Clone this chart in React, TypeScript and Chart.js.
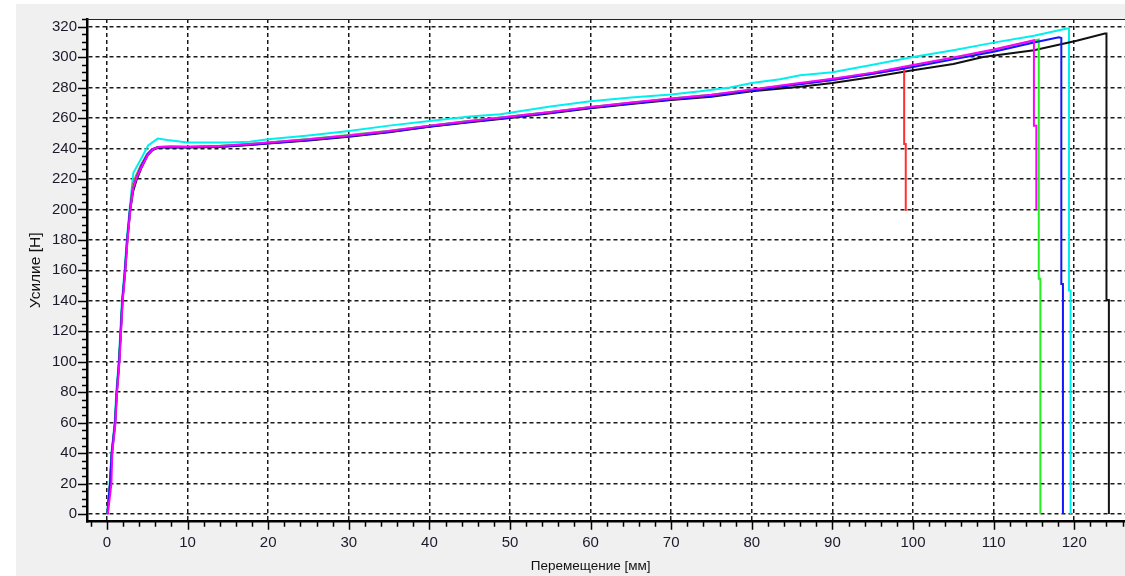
import React, { useEffect, useRef } from "react";
import { Chart, registerables } from "chart.js";

Chart.register(...registerables);

// ---- tick labels ----
const xTickLabels = [0, 10, 20, 30, 40, 50, 60, 70, 80, 90, 100, 110, 120];
const yTickLabels = [0, 20, 40, 60, 80, 100, 120, 140, 160, 180, 200, 220, 240, 260, 280, 300, 320];

const xTitle = "Перемещение [мм]";
const yTitle = "Усилие [Н]";

// ---- series (displacement mm, force N) ----
const redX = [0.05, 0.38, 0.6, 1.0, 1.22, 1.5, 1.72, 1.92, 2.25, 2.52, 2.87, 3.2, 3.6, 4.2, 5.0, 5.6, 6.3, 8, 10, 14, 17.7, 20, 25, 30, 35, 40, 45, 50, 55, 60, 65, 70, 75, 80, 85, 90, 95, 98.9, 98.9, 99.1, 99.1];
const redY = [0, 20, 40, 60, 80, 100, 120, 140, 160, 180, 200, 216, 222, 229, 236.5, 239.5, 241, 241.2, 241, 241.5, 242.8, 243.8, 245.8, 248.3, 251.2, 254.8, 257.8, 260.6, 263.8, 267, 269.8, 272.5, 274.8, 278.3, 281.8, 285, 289, 292.5, 243, 243, 199];

const magentaX = [0.1, 0.55, 0.65, 1.05, 1.25, 1.55, 1.75, 1.95, 2.28, 2.55, 2.9, 3.25, 3.7, 4.3, 5.1, 5.7, 6.4, 8, 10, 14, 17.7, 20, 25, 30, 35, 40, 45, 50, 55, 60, 65, 70, 75, 80, 85, 90, 95, 100, 105, 110, 115.0, 115.0, 115.3, 115.3];
const magentaY = [0, 20, 40, 60, 80, 100, 120, 140, 160, 180, 200, 214, 221, 228, 236, 239.5, 241, 241.3, 241.2, 241.6, 243, 244, 246, 248.6, 251.5, 255, 258, 261, 264, 267.3, 270.2, 272.8, 275.3, 278.8, 282.3, 285.8, 289.8, 294.8, 299.8, 305, 311, 255, 255, 200];

const greenX = [0.05, 0.4, 0.6, 1.0, 1.2, 1.5, 1.7, 1.9, 2.24, 2.5, 2.86, 3.2, 3.6, 4.2, 5.0, 5.6, 6.3, 8, 10, 14, 17.7, 20, 25, 30, 35, 40, 45, 50, 55, 60, 65, 70, 75, 80, 85, 90, 95, 100, 105, 110, 115.6, 115.6, 115.8, 115.8];
const greenY = [0, 20, 40, 60, 80, 100, 120, 140, 160, 180, 200, 215, 221, 228.5, 236.2, 239.6, 241, 241.3, 241.2, 241.8, 243, 244, 246.2, 248.8, 251.6, 255, 258.2, 261, 264, 267.2, 270, 272.8, 275.2, 278.6, 282, 285.5, 289.5, 294.3, 299.3, 304.6, 311.5, 154.5, 154.5, 0];

const blueX = [0.05, 0.37, 0.58, 1.0, 1.2, 1.5, 1.7, 1.9, 2.23, 2.5, 2.85, 3.2, 3.6, 4.2, 5.0, 5.6, 6.3, 8, 10, 14, 17.7, 20, 25, 30, 35, 40, 45, 50, 55, 60, 65, 70, 75, 80, 85, 90, 95, 100, 105, 110, 115, 118.1, 118.4, 118.4, 118.6, 118.6];
const blueY = [0, 20, 40, 60, 80, 100, 120, 140, 160, 180, 200, 213, 220, 228, 236, 239.4, 240.8, 241, 240.8, 241.3, 242.5, 243.5, 245.5, 248, 251, 254.5, 257.5, 260.3, 263.5, 266.8, 269.5, 272.3, 274.5, 278, 281.5, 285, 289, 293.5, 298.5, 303.5, 309.6, 313, 312.5, 151, 151, 0];

const cyanX = [0, 0.33, 0.55, 0.95, 1.15, 1.45, 1.65, 1.85, 2.18, 2.45, 2.8, 3.27, 4.2, 5.1, 6.3, 7.5, 10, 15, 17.7, 20, 25, 30, 35, 40, 45, 48.8, 50, 55, 60, 65, 70, 73.6, 77.3, 80, 83.5, 86, 90, 95, 100, 105, 110, 115, 119.1, 119.35, 119.35, 119.55, 119.55];
const cyanY = [0, 20, 40, 60, 80, 100, 120, 140, 160, 180, 200, 224, 233, 242, 246.5, 245.5, 244, 244, 244.5, 246, 248.5, 251.5, 255, 258, 261, 262.5, 263.5, 267.5, 271, 273.5, 275.5, 277.5, 280, 283, 285.5, 288, 290, 295, 300, 304.5, 309.5, 314, 318.7, 318.7, 146.7, 146.7, 0];

const blackX = [0.05, 0.4, 0.62, 1.02, 1.22, 1.52, 1.72, 1.92, 2.26, 2.53, 2.9, 3.25, 3.65, 4.25, 5.05, 5.65, 6.35, 8, 10, 14, 17.7, 20, 25, 30, 35, 40, 45, 50, 55, 60, 65, 70, 75, 80, 86, 90, 95, 99.6, 105, 108.7, 115, 120.3, 123.8, 124.0, 124.0, 124.3, 124.3];
const blackY = [0, 20, 40, 60, 80, 100, 120, 140, 160, 180, 200, 212, 219, 227, 235.5, 239, 240.5, 240.8, 240.6, 241, 242.3, 243.2, 245.2, 247.7, 250.7, 254.2, 257.2, 260, 263.2, 266.4, 269.2, 271.8, 274, 277.5, 280.6, 283, 287, 291, 295.5, 300, 304.5, 310.7, 315.5, 315.5, 140.5, 140.5, 0];

const seriesList = [
  { name: "magenta", color: "#ff00ff", xs: magentaX, ys: magentaY },
  { name: "blue", color: "#1414ff", xs: blueX, ys: blueY },
  { name: "green", color: "#22ee22", xs: greenX, ys: greenY },
  { name: "red", color: "#ff3030", xs: redX, ys: redY },
  { name: "black", color: "#111111", xs: blackX, ys: blackY },
  { name: "cyan", color: "#00f0f0", xs: cyanX, ys: cyanY },
];

const FONT = "'Liberation Sans', Arial, sans-serif";

const framePlugin = {
  id: "frame",
  beforeDraw(chart: any) {
    const { ctx, chartArea: a } = chart;
    ctx.save();
    ctx.fillStyle = "#ffffff";
    ctx.fillRect(a.left, a.top, a.right - a.left, a.bottom - a.top);
    ctx.restore();
  },
  afterDraw(chart: any) {
    const { ctx, chartArea: a, scales } = chart;
    const xs = scales.x;
    const ys = scales.y;
    ctx.save();
    ctx.strokeStyle = "#222";
    ctx.lineWidth = 1.2;
    ctx.beginPath();
    ctx.moveTo(a.left, a.top + 0.5);
    ctx.lineTo(a.right, a.top + 0.5);
    ctx.stroke();

    ctx.strokeStyle = "#000";
    ctx.lineWidth = 1.5;
    ctx.beginPath();
    for (let v = -2; v <= xs.max; v += 2) {
      const px = Math.round(xs.getPixelForValue(v)) + 0.5;
      const len = v % 10 === 0 ? 8 : 5;
      ctx.moveTo(px, a.bottom);
      ctx.lineTo(px, a.bottom + len);
    }
    for (let v = 0; v <= ys.max; v += 5) {
      const py = Math.round(ys.getPixelForValue(v)) + 0.5;
      const len = v % 20 === 0 ? 9 : 5;
      ctx.moveTo(a.left, py);
      ctx.lineTo(a.left - len, py);
    }
    ctx.stroke();

    // x axis title, centred under the labelled tick range
    const cx = (xs.getPixelForValue(xTickLabels[0]) + xs.getPixelForValue(xTickLabels[xTickLabels.length - 1])) / 2;
    ctx.fillStyle = "#111";
    ctx.font = `13.5px ${FONT}`;
    ctx.textAlign = "center";
    ctx.textBaseline = "middle";
    ctx.fillText(xTitle, cx, 566);
    ctx.restore();
  },
};

export default function App() {
  const ref = useRef<HTMLCanvasElement | null>(null);

  useEffect(() => {
    if (!ref.current) return;
    const datasets = seriesList.map((s) => ({
      label: s.name,
      data: s.xs.map((x, i) => ({ x, y: s.ys[i] })),
      borderColor: s.color,
      backgroundColor: s.color,
      borderWidth: 2,
      pointRadius: 0,
      tension: 0,
      fill: false,
    }));
    const chart = new Chart(ref.current, {
      type: "line",
      data: { datasets } as any,
      options: {
        animation: false,
        responsive: false,
        maintainAspectRatio: false,
        layout: { padding: { top: 11.2, right: 0, bottom: 0, left: 0 } },
        plugins: { legend: { display: false }, tooltip: { enabled: false } },
        scales: {
          x: {
            type: "linear",
            min: -2.48,
            max: 126.3,
            afterBuildTicks: (s: any) => {
              s.ticks = xTickLabels.map((v) => ({ value: v }));
            },
            afterFit: (s: any) => {
              s.height = 54.3;
            },
            grid: { color: "#1a1a1a", lineWidth: 1.5, drawTicks: false },
            border: { display: true, color: "#000", width: 2.5, dash: [4, 3] },
            ticks: {
              autoSkip: false,
              maxRotation: 0,
              padding: 12,
              color: "#1a1a2a",
              font: { family: FONT, size: 15 },
            },
          },
          y: {
            type: "linear",
            min: -5,
            max: 325,
            afterBuildTicks: (s: any) => {
              s.ticks = yTickLabels.map((v) => ({ value: v }));
            },
            afterFit: (s: any) => {
              s.width = 87;
            },
            grid: { color: "#1a1a1a", lineWidth: 1.5, drawTicks: false },
            border: { display: true, color: "#000", width: 2.5, dash: [4, 3] },
            ticks: {
              autoSkip: false,
              padding: 10,
              color: "#1a1a2a",
              font: { family: FONT, size: 15 },
            },
            title: {
              display: true,
              text: yTitle,
              color: "#111",
              font: { family: FONT, size: 15.5 },
              padding: { top: 26, bottom: 26 },
            },
          },
        },
      } as any,
      plugins: [framePlugin],
    });
    return () => chart.destroy();
  }, []);

  return (
    <div style={{ position: "fixed", left: 0, top: 0, width: 1125, height: 576, background: "#ffffff", overflow: "hidden" }}>
      <div style={{ position: "absolute", left: 16, top: 4, right: 0, bottom: 0, background: "#f0f0f0" }} />
      <canvas ref={ref} width={1125} height={576} style={{ position: "absolute", left: 0, top: 0, width: 1125, height: 576 }} />
    </div>
  );
}
